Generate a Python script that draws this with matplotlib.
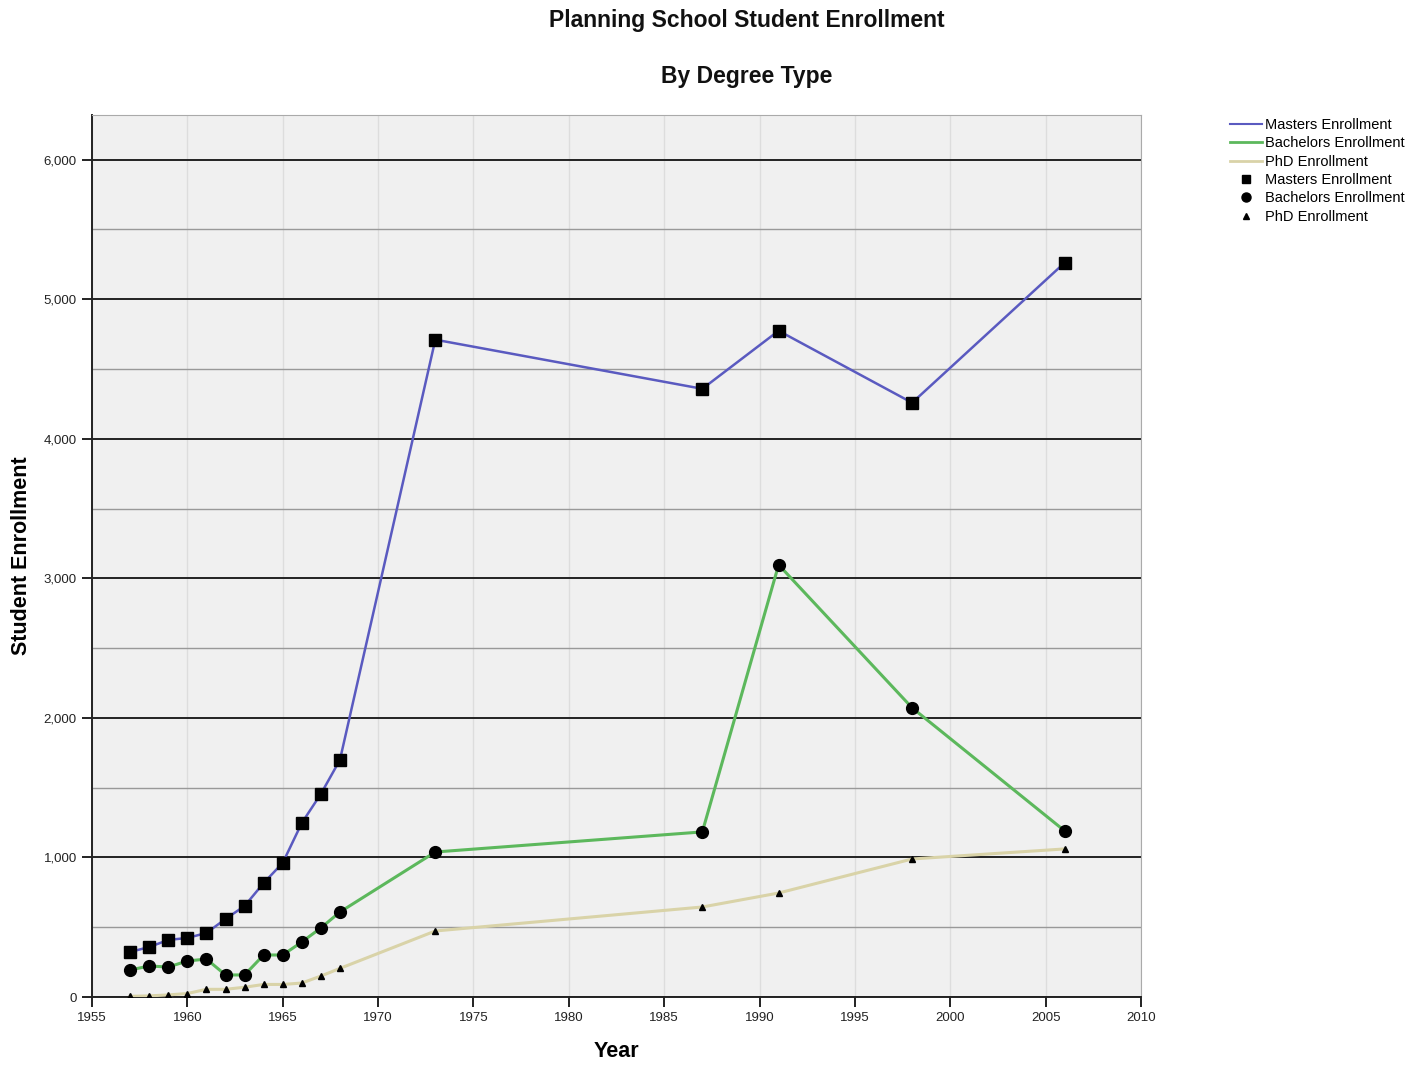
import matplotlib
matplotlib.use("Agg")
import matplotlib.pyplot as plt
from matplotlib.ticker import MultipleLocator, FuncFormatter
from matplotlib.lines import Line2D

years_early = [1957, 1958, 1959, 1960, 1961, 1962, 1963, 1964, 1965, 1966, 1967, 1968]
years_late = [1973, 1987, 1991, 1998, 2006]
years = years_early + years_late

masters = [323, 358, 409, 423, 459, 559, 652, 817, 961, 1247, 1455, 1699,
           4710, 4358, 4774, 4258, 5262]
bachelors = [194, 222, 215, 258, 272, 158, 158, 301, 301, 394, 495, 609,
             1039, 1183, 3097, 2072, 1190]
phd = [5, 8, 15, 25, 55, 55, 70, 90, 90, 100, 150, 205,
       473, 645, 745, 989, 1061]

plt.rcParams['font.family'] = ['Liberation Sans', 'DejaVu Sans']

fig = plt.figure(figsize=(14.16, 10.67), dpi=100)
ax = fig.add_axes([92/1416, 1 - 997/1067, (1141-92)/1416, (997-115)/1067])
ax.set_facecolor('#f0f0f0')

c_m = '#5a5ac0'
c_b = '#5cb85c'
c_p = '#d9d3a8'

ax.plot(years, masters, color=c_m, lw=1.8, zorder=3)
ax.plot(years, bachelors, color=c_b, lw=2.2, zorder=3)
ax.plot(years, phd, color=c_p, lw=2.2, zorder=3)
ax.plot(years, masters, ls='none', marker='s', ms=8, color='black', zorder=4)
ax.plot(years, bachelors, ls='none', marker='o', ms=8.5, color='black', zorder=4)
ax.plot(years, phd, ls='none', marker='^', ms=4.5, color='black', zorder=4)

ax.set_xlim(1955, 2010)
ax.set_ylim(0, 6320)
ax.xaxis.set_major_locator(MultipleLocator(5))
ax.yaxis.set_major_locator(MultipleLocator(1000))
ax.yaxis.set_minor_locator(MultipleLocator(500))
ax.yaxis.set_major_formatter(FuncFormatter(lambda v, p: f'{int(v):,}'))

ax.grid(axis='y', which='major', color='#222222', lw=1.4, zorder=1)
ax.grid(axis='y', which='minor', color='#999999', lw=1.0, zorder=1)
ax.grid(axis='x', which='major', color='#dddddd', lw=1.0, zorder=1)

for s in ['top', 'right']:
    ax.spines[s].set_color('#aaaaaa')
for s in ['left', 'bottom']:
    ax.spines[s].set_color('#222222')
    ax.spines[s].set_linewidth(1.4)

ax.tick_params(axis='both', which='major', labelsize=9.5, colors='#222222', length=7, width=1.4, pad=4)
ax.tick_params(axis='y', which='minor', length=0)

ax.set_xlabel('Year', fontsize=15.5, fontweight='bold', labelpad=12)
ax.set_ylabel('Student Enrollment', fontsize=15.5, fontweight='bold', labelpad=8)

fig.text(747/1416, 1 - 20/1067, 'Planning School Student Enrollment', ha='center', va='center',
         fontsize=16.5, fontweight='bold', color='#111111')
fig.text(747/1416, 1 - 77/1067, 'By Degree Type', ha='center', va='center',
         fontsize=16.5, fontweight='bold', color='#111111')

handles = [
    Line2D([], [], color=c_m, lw=1.5),
    Line2D([], [], color=c_b, lw=2),
    Line2D([], [], color=c_p, lw=2),
    Line2D([], [], ls='none', marker='s', ms=6, color='black'),
    Line2D([], [], ls='none', marker='o', ms=6.5, color='black'),
    Line2D([], [], ls='none', marker='^', ms=4, color='black'),
]
labels = ['Masters Enrollment', 'Bachelors Enrollment', 'PhD Enrollment',
          'Masters Enrollment', 'Bachelors Enrollment', 'PhD Enrollment']
fig.legend(handles, labels, loc='upper left', bbox_to_anchor=(1230/1416, 1 - 118/1067),
           frameon=False, fontsize=10.5, handlelength=2.2, handletextpad=0.2,
           labelspacing=0.3, borderaxespad=0, borderpad=0)

fig.savefig('out.png', dpi=100)
